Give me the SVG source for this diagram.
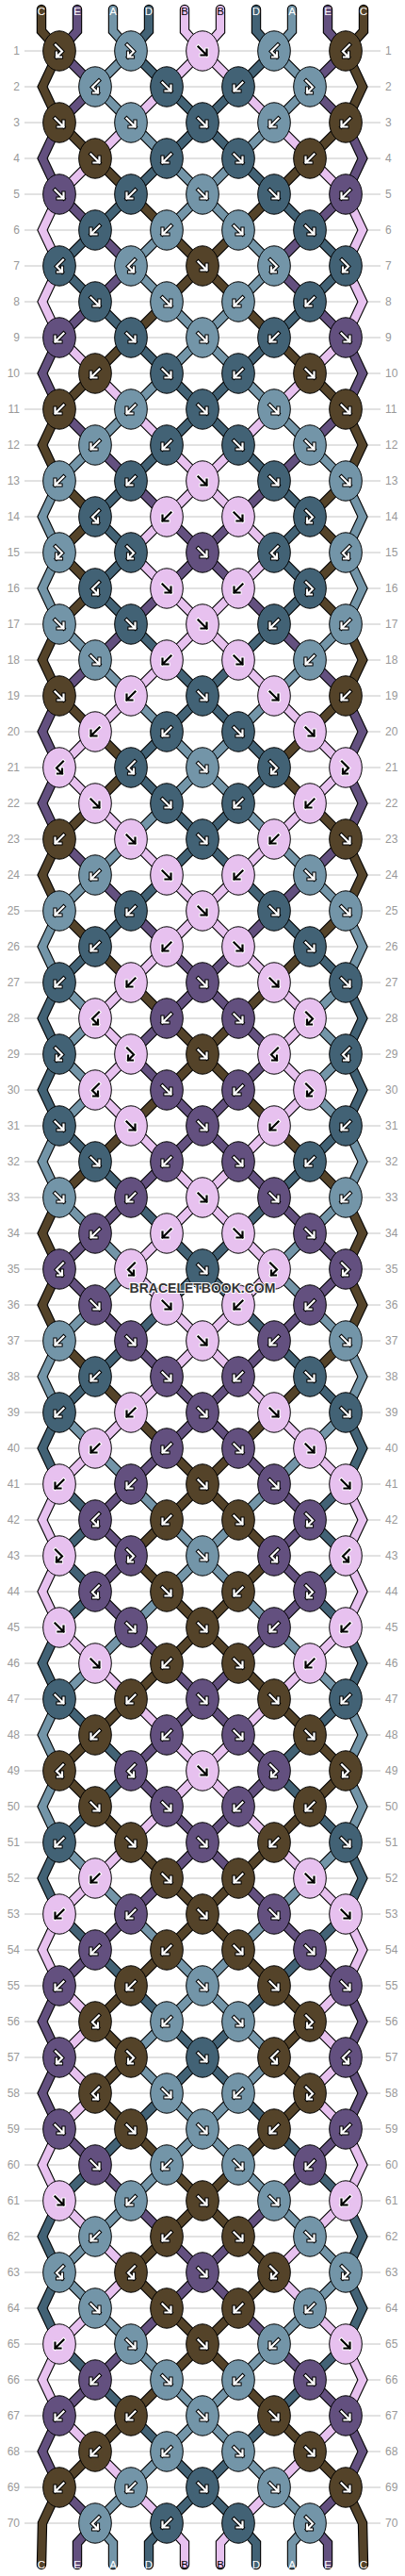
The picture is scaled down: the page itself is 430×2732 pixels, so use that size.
<svg xmlns="http://www.w3.org/2000/svg" xmlns:xlink="http://www.w3.org/1999/xlink" width="430" height="2732" viewBox="0 0 430 2732">
<style>
.C{fill:#544329}.E{fill:#63507f}.A{fill:#7395a8}.D{fill:#426275}.B{fill:#e7c1ef}
.sC{stroke:#544329}.sE{stroke:#63507f}.sA{stroke:#7395a8}.sD{stroke:#426275}.sB{stroke:#e7c1ef}
#connectors use{fill:none;stroke-linejoin:miter;stroke-linecap:round}
#so use{stroke:#000;stroke-width:10.4}
#sc use{stroke-width:8.2}
.lbl text{font-family:"Liberation Sans",Arial,sans-serif;font-size:12px;fill:#999}
.end text{font-family:"Liberation Sans",Arial,sans-serif;font-size:11.5px;text-anchor:middle;fill:#fff}
.end text.k{fill:#000}
</style>
<defs>
<ellipse id="e" rx="17.3" ry="21.2" stroke="#000" stroke-width="1"/>
<g id="aF" fill="none"><path d="M-4.5-4.5L4.5,4.5M4.5-1.5V4.5H-1.5" stroke="#000" stroke-width="4.2" stroke-linecap="square"/><path d="M-4.5-4.5L4.5,4.5M4.5-1.5V4.5H-1.5" stroke="#fff" stroke-width="2.2" stroke-linecap="square"/></g>
<g id="aB" fill="none"><path d="M4.5-4.5L-4.5,4.5M-4.5-1.5V4.5H1.5" stroke="#000" stroke-width="4.2" stroke-linecap="square"/><path d="M4.5-4.5L-4.5,4.5M-4.5-1.5V4.5H1.5" stroke="#fff" stroke-width="2.2" stroke-linecap="square"/></g>
<g id="af" fill="none"><path d="M-4-6.5L3,0.5L-3,6.5M-3,1.5V6.5H2" stroke="#000" stroke-width="4.2" stroke-linecap="square"/><path d="M-4-6.5L3,0.5L-3,6.5M-3,1.5V6.5H2" stroke="#fff" stroke-width="2.2" stroke-linecap="square"/></g>
<g id="ab" fill="none"><path d="M4-6.5L-3,0.5L3,6.5M3,1.5V6.5H-2" stroke="#000" stroke-width="4.2" stroke-linecap="square"/><path d="M4-6.5L-3,0.5L3,6.5M3,1.5V6.5H-2" stroke="#fff" stroke-width="2.2" stroke-linecap="square"/></g>
<g id="kF" fill="none"><path d="M-4.5-4.5L4.5,4.5M4.5-1.5V4.5H-1.5" stroke="#fff" stroke-width="4.2" stroke-linecap="square"/><path d="M-4.5-4.5L4.5,4.5M4.5-1.5V4.5H-1.5" stroke="#000" stroke-width="2.2" stroke-linecap="square"/></g>
<g id="kB" fill="none"><path d="M4.5-4.5L-4.5,4.5M-4.5-1.5V4.5H1.5" stroke="#fff" stroke-width="4.2" stroke-linecap="square"/><path d="M4.5-4.5L-4.5,4.5M-4.5-1.5V4.5H1.5" stroke="#000" stroke-width="2.2" stroke-linecap="square"/></g>
<g id="kf" fill="none"><path d="M-4-6.5L3,0.5L-3,6.5M-3,1.5V6.5H2" stroke="#fff" stroke-width="4.2" stroke-linecap="square"/><path d="M-4-6.5L3,0.5L-3,6.5M-3,1.5V6.5H2" stroke="#000" stroke-width="2.2" stroke-linecap="square"/></g>
<g id="kb" fill="none"><path d="M4-6.5L-3,0.5L3,6.5M3,1.5V6.5H-2" stroke="#fff" stroke-width="4.2" stroke-linecap="square"/><path d="M4-6.5L-3,0.5L3,6.5M3,1.5V6.5H-2" stroke="#000" stroke-width="2.2" stroke-linecap="square"/></g>
<path id="strC" fill="none" d="M44,10V33L63,54 45,92 63,130 101,168 139,206 177,244 215,282 177,320 139,358 101,396 63,434 45,472 63,510 101,548 63,586 101,624 63,662 45,700 63,738 101,776 139,814 101,852 63,890 45,928 63,966 101,1004 139,1042 177,1080 215,1118 177,1156 139,1194 101,1232 63,1270 45,1308 63,1346 45,1384 63,1422 101,1460 139,1498 177,1536 215,1574 177,1612 139,1650 177,1688 215,1726 177,1764 139,1802 101,1840 63,1878 101,1916 139,1954 177,1992 215,2030 177,2068 139,2106 101,2144 139,2182 101,2220 139,2258 177,2296 215,2334 177,2372 139,2410 177,2448 215,2486 177,2524 139,2562 101,2600 63,2638 45,2676 44,2720"/>
<path id="strE" fill="none" d="M82,10V33L63,54 101,92 63,130 45,168 63,206 101,244 139,282 101,320 63,358 45,396 63,434 101,472 139,510 177,548 215,586 177,624 139,662 101,700 63,738 45,776 63,814 45,852 63,890 101,928 139,966 177,1004 215,1042 177,1080 139,1118 177,1156 215,1194 177,1232 139,1270 101,1308 63,1346 101,1384 139,1422 177,1460 215,1498 177,1536 139,1574 101,1612 139,1650 101,1688 139,1726 177,1764 215,1802 177,1840 139,1878 177,1916 215,1954 177,1992 139,2030 101,2068 63,2106 45,2144 63,2182 45,2220 63,2258 101,2296 139,2334 177,2372 215,2410 177,2448 139,2486 101,2524 63,2562 45,2600 63,2638 101,2676 82,2697V2720"/>
<path id="strA" fill="none" d="M120,10V33L139,54 101,92 139,130 177,168 215,206 177,244 139,282 177,320 215,358 177,396 139,434 101,472 63,510 45,548 63,586 45,624 63,662 101,700 139,738 177,776 215,814 177,852 139,890 101,928 63,966 45,1004 63,1042 101,1080 63,1118 101,1156 63,1194 45,1232 63,1270 101,1308 139,1346 101,1384 63,1422 45,1460 63,1498 101,1536 139,1574 177,1612 215,1650 177,1688 139,1726 101,1764 63,1802 45,1840 63,1878 45,1916 63,1954 101,1992 139,2030 177,2068 215,2106 177,2144 139,2182 177,2220 215,2258 177,2296 139,2334 101,2372 63,2410 101,2448 139,2486 177,2524 215,2562 177,2600 139,2638 101,2676 120,2697V2720"/>
<path id="strD" fill="none" d="M158,10V33L139,54 177,92 215,130 177,168 139,206 101,244 63,282 101,320 139,358 177,396 215,434 177,472 139,510 101,548 139,586 101,624 139,662 177,700 215,738 177,776 139,814 177,852 215,890 177,928 139,966 101,1004 63,1042 45,1080 63,1118 45,1156 63,1194 101,1232 139,1270 177,1308 215,1346 177,1384 139,1422 101,1460 63,1498 45,1536 63,1574 101,1612 63,1650 101,1688 63,1726 45,1764 63,1802 101,1840 139,1878 101,1916 63,1954 45,1992 63,2030 101,2068 139,2106 177,2144 215,2182 177,2220 139,2258 101,2296 63,2334 45,2372 63,2410 45,2448 63,2486 101,2524 139,2562 177,2600 215,2638 177,2676 158,2697V2720"/>
<path id="strB" fill="none" d="M196,10V33L215,54 177,92 139,130 101,168 63,206 45,244 63,282 45,320 63,358 101,396 139,434 177,472 215,510 177,548 139,586 177,624 215,662 177,700 139,738 101,776 63,814 101,852 139,890 177,928 215,966 177,1004 139,1042 101,1080 139,1118 101,1156 139,1194 177,1232 215,1270 177,1308 139,1346 177,1384 215,1422 177,1460 139,1498 101,1536 63,1574 45,1612 63,1650 45,1688 63,1726 101,1764 139,1802 177,1840 215,1878 177,1916 139,1954 101,1992 63,2030 45,2068 63,2106 101,2144 63,2182 101,2220 63,2258 45,2296 63,2334 101,2372 139,2410 101,2448 63,2486 45,2524 63,2562 101,2600 139,2638 177,2676 196,2697V2720"/>
</defs>
<rect width="430" height="2732" fill="#fff"/>
<path id="rowlines" fill="none" stroke="#c4c4c4" stroke-width="1" d="M26,54H404M26,92H404M26,130H404M26,168H404M26,206H404M26,244H404M26,282H404M26,320H404M26,358H404M26,396H404M26,434H404M26,472H404M26,510H404M26,548H404M26,586H404M26,624H404M26,662H404M26,700H404M26,738H404M26,776H404M26,814H404M26,852H404M26,890H404M26,928H404M26,966H404M26,1004H404M26,1042H404M26,1080H404M26,1118H404M26,1156H404M26,1194H404M26,1232H404M26,1270H404M26,1308H404M26,1346H404M26,1384H404M26,1422H404M26,1460H404M26,1498H404M26,1536H404M26,1574H404M26,1612H404M26,1650H404M26,1688H404M26,1726H404M26,1764H404M26,1802H404M26,1840H404M26,1878H404M26,1916H404M26,1954H404M26,1992H404M26,2030H404M26,2068H404M26,2106H404M26,2144H404M26,2182H404M26,2220H404M26,2258H404M26,2296H404M26,2334H404M26,2372H404M26,2410H404M26,2448H404M26,2486H404M26,2524H404M26,2562H404M26,2600H404M26,2638H404M26,2676H404"/>
<g id="labels-left" class="lbl" text-anchor="end" transform="translate(21 4.3)">
<text y="54">1</text><text y="92">2</text><text y="130">3</text><text y="168">4</text><text y="206">5</text><text y="244">6</text><text y="282">7</text><text y="320">8</text><text y="358">9</text><text y="396">10</text><text y="434">11</text><text y="472">12</text><text y="510">13</text><text y="548">14</text><text y="586">15</text><text y="624">16</text><text y="662">17</text><text y="700">18</text><text y="738">19</text><text y="776">20</text><text y="814">21</text><text y="852">22</text><text y="890">23</text><text y="928">24</text><text y="966">25</text><text y="1004">26</text><text y="1042">27</text><text y="1080">28</text><text y="1118">29</text><text y="1156">30</text><text y="1194">31</text><text y="1232">32</text><text y="1270">33</text><text y="1308">34</text><text y="1346">35</text><text y="1384">36</text><text y="1422">37</text><text y="1460">38</text><text y="1498">39</text><text y="1536">40</text><text y="1574">41</text><text y="1612">42</text><text y="1650">43</text><text y="1688">44</text><text y="1726">45</text><text y="1764">46</text><text y="1802">47</text><text y="1840">48</text><text y="1878">49</text><text y="1916">50</text><text y="1954">51</text><text y="1992">52</text><text y="2030">53</text><text y="2068">54</text><text y="2106">55</text><text y="2144">56</text><text y="2182">57</text><text y="2220">58</text><text y="2258">59</text><text y="2296">60</text><text y="2334">61</text><text y="2372">62</text><text y="2410">63</text><text y="2448">64</text><text y="2486">65</text><text y="2524">66</text><text y="2562">67</text><text y="2600">68</text><text y="2638">69</text><text y="2676">70</text>
</g>
<g id="labels-right" class="lbl" text-anchor="start" transform="translate(409 4.3)">
<text y="54">1</text><text y="92">2</text><text y="130">3</text><text y="168">4</text><text y="206">5</text><text y="244">6</text><text y="282">7</text><text y="320">8</text><text y="358">9</text><text y="396">10</text><text y="434">11</text><text y="472">12</text><text y="510">13</text><text y="548">14</text><text y="586">15</text><text y="624">16</text><text y="662">17</text><text y="700">18</text><text y="738">19</text><text y="776">20</text><text y="814">21</text><text y="852">22</text><text y="890">23</text><text y="928">24</text><text y="966">25</text><text y="1004">26</text><text y="1042">27</text><text y="1080">28</text><text y="1118">29</text><text y="1156">30</text><text y="1194">31</text><text y="1232">32</text><text y="1270">33</text><text y="1308">34</text><text y="1346">35</text><text y="1384">36</text><text y="1422">37</text><text y="1460">38</text><text y="1498">39</text><text y="1536">40</text><text y="1574">41</text><text y="1612">42</text><text y="1650">43</text><text y="1688">44</text><text y="1726">45</text><text y="1764">46</text><text y="1802">47</text><text y="1840">48</text><text y="1878">49</text><text y="1916">50</text><text y="1954">51</text><text y="1992">52</text><text y="2030">53</text><text y="2068">54</text><text y="2106">55</text><text y="2144">56</text><text y="2182">57</text><text y="2220">58</text><text y="2258">59</text><text y="2296">60</text><text y="2334">61</text><text y="2372">62</text><text y="2410">63</text><text y="2448">64</text><text y="2486">65</text><text y="2524">66</text><text y="2562">67</text><text y="2600">68</text><text y="2638">69</text><text y="2676">70</text>
</g>
<g id="connectors">
<g id="so">
<use href="#strC"/><use href="#strE"/><use href="#strA"/><use href="#strD"/><use href="#strB"/>
<use href="#strC" transform="matrix(-1 0 0 1 430 0)"/><use href="#strE" transform="matrix(-1 0 0 1 430 0)"/><use href="#strA" transform="matrix(-1 0 0 1 430 0)"/><use href="#strD" transform="matrix(-1 0 0 1 430 0)"/><use href="#strB" transform="matrix(-1 0 0 1 430 0)"/>
</g>
<g id="sc">
<use href="#strC" class="sC"/><use href="#strE" class="sE"/><use href="#strA" class="sA"/><use href="#strD" class="sD"/><use href="#strB" class="sB"/>
<use href="#strC" class="sC" transform="matrix(-1 0 0 1 430 0)"/><use href="#strE" class="sE" transform="matrix(-1 0 0 1 430 0)"/><use href="#strA" class="sA" transform="matrix(-1 0 0 1 430 0)"/><use href="#strD" class="sD" transform="matrix(-1 0 0 1 430 0)"/><use href="#strB" class="sB" transform="matrix(-1 0 0 1 430 0)"/>
</g>
</g>
<g id="ends" class="end">
<text x="44" y="16.3">C</text><text x="82" y="16.3">E</text><text x="120" y="16.3">A</text><text x="158" y="16.3">D</text><text x="196" y="16.3" class="k">B</text><text x="234" y="16.3" class="k">B</text><text x="272" y="16.3">D</text><text x="310" y="16.3">A</text><text x="348" y="16.3">E</text><text x="386" y="16.3">C</text>
<text x="44" y="2724">C</text><text x="82" y="2724">E</text><text x="120" y="2724">A</text><text x="158" y="2724">D</text><text x="196" y="2724" class="k">B</text><text x="234" y="2724" class="k">B</text><text x="272" y="2724">D</text><text x="310" y="2724">A</text><text x="348" y="2724">E</text><text x="386" y="2724">C</text>
</g>
<g id="knots">
<g id="r1k1" class="C" transform="translate(63 54)"><use href="#e"/><use href="#af"/></g>
<g id="r1k2" class="A" transform="translate(139 54)"><use href="#e"/><use href="#af"/></g>
<g id="r1k3" class="B" transform="translate(215 54)"><use href="#e"/><use href="#kF"/></g>
<g id="r1k4" class="A" transform="translate(291 54)"><use href="#e"/><use href="#ab"/></g>
<g id="r1k5" class="C" transform="translate(367 54)"><use href="#e"/><use href="#ab"/></g>
<g id="r2k1" class="A" transform="translate(101 92)"><use href="#e"/><use href="#ab"/></g>
<g id="r2k2" class="D" transform="translate(177 92)"><use href="#e"/><use href="#aF"/></g>
<g id="r2k3" class="D" transform="translate(253 92)"><use href="#e"/><use href="#aB"/></g>
<g id="r2k4" class="A" transform="translate(329 92)"><use href="#e"/><use href="#af"/></g>
<g id="r3k1" class="C" transform="translate(63 130)"><use href="#e"/><use href="#aF"/></g>
<g id="r3k2" class="A" transform="translate(139 130)"><use href="#e"/><use href="#aF"/></g>
<g id="r3k3" class="D" transform="translate(215 130)"><use href="#e"/><use href="#aF"/></g>
<g id="r3k4" class="A" transform="translate(291 130)"><use href="#e"/><use href="#aB"/></g>
<g id="r3k5" class="C" transform="translate(367 130)"><use href="#e"/><use href="#aB"/></g>
<g id="r4k1" class="C" transform="translate(101 168)"><use href="#e"/><use href="#aF"/></g>
<g id="r4k2" class="D" transform="translate(177 168)"><use href="#e"/><use href="#aB"/></g>
<g id="r4k3" class="D" transform="translate(253 168)"><use href="#e"/><use href="#aF"/></g>
<g id="r4k4" class="C" transform="translate(329 168)"><use href="#e"/><use href="#aB"/></g>
<g id="r5k1" class="E" transform="translate(63 206)"><use href="#e"/><use href="#aF"/></g>
<g id="r5k2" class="D" transform="translate(139 206)"><use href="#e"/><use href="#aB"/></g>
<g id="r5k3" class="A" transform="translate(215 206)"><use href="#e"/><use href="#aF"/></g>
<g id="r5k4" class="D" transform="translate(291 206)"><use href="#e"/><use href="#aF"/></g>
<g id="r5k5" class="E" transform="translate(367 206)"><use href="#e"/><use href="#aB"/></g>
<g id="r6k1" class="D" transform="translate(101 244)"><use href="#e"/><use href="#aB"/></g>
<g id="r6k2" class="A" transform="translate(177 244)"><use href="#e"/><use href="#aB"/></g>
<g id="r6k3" class="A" transform="translate(253 244)"><use href="#e"/><use href="#aF"/></g>
<g id="r6k4" class="D" transform="translate(329 244)"><use href="#e"/><use href="#aF"/></g>
<g id="r7k1" class="D" transform="translate(63 282)"><use href="#e"/><use href="#ab"/></g>
<g id="r7k2" class="A" transform="translate(139 282)"><use href="#e"/><use href="#ab"/></g>
<g id="r7k3" class="C" transform="translate(215 282)"><use href="#e"/><use href="#aF"/></g>
<g id="r7k4" class="A" transform="translate(291 282)"><use href="#e"/><use href="#af"/></g>
<g id="r7k5" class="D" transform="translate(367 282)"><use href="#e"/><use href="#af"/></g>
<g id="r8k1" class="D" transform="translate(101 320)"><use href="#e"/><use href="#aF"/></g>
<g id="r8k2" class="A" transform="translate(177 320)"><use href="#e"/><use href="#aF"/></g>
<g id="r8k3" class="A" transform="translate(253 320)"><use href="#e"/><use href="#aB"/></g>
<g id="r8k4" class="D" transform="translate(329 320)"><use href="#e"/><use href="#aB"/></g>
<g id="r9k1" class="E" transform="translate(63 358)"><use href="#e"/><use href="#aB"/></g>
<g id="r9k2" class="D" transform="translate(139 358)"><use href="#e"/><use href="#aF"/></g>
<g id="r9k3" class="A" transform="translate(215 358)"><use href="#e"/><use href="#aF"/></g>
<g id="r9k4" class="D" transform="translate(291 358)"><use href="#e"/><use href="#aB"/></g>
<g id="r9k5" class="E" transform="translate(367 358)"><use href="#e"/><use href="#aF"/></g>
<g id="r10k1" class="C" transform="translate(101 396)"><use href="#e"/><use href="#aB"/></g>
<g id="r10k2" class="D" transform="translate(177 396)"><use href="#e"/><use href="#aF"/></g>
<g id="r10k3" class="D" transform="translate(253 396)"><use href="#e"/><use href="#aB"/></g>
<g id="r10k4" class="C" transform="translate(329 396)"><use href="#e"/><use href="#aF"/></g>
<g id="r11k1" class="C" transform="translate(63 434)"><use href="#e"/><use href="#aB"/></g>
<g id="r11k2" class="A" transform="translate(139 434)"><use href="#e"/><use href="#aB"/></g>
<g id="r11k3" class="D" transform="translate(215 434)"><use href="#e"/><use href="#aF"/></g>
<g id="r11k4" class="A" transform="translate(291 434)"><use href="#e"/><use href="#aF"/></g>
<g id="r11k5" class="C" transform="translate(367 434)"><use href="#e"/><use href="#aF"/></g>
<g id="r12k1" class="A" transform="translate(101 472)"><use href="#e"/><use href="#aB"/></g>
<g id="r12k2" class="D" transform="translate(177 472)"><use href="#e"/><use href="#aB"/></g>
<g id="r12k3" class="D" transform="translate(253 472)"><use href="#e"/><use href="#aF"/></g>
<g id="r12k4" class="A" transform="translate(329 472)"><use href="#e"/><use href="#aF"/></g>
<g id="r13k1" class="A" transform="translate(63 510)"><use href="#e"/><use href="#aB"/></g>
<g id="r13k2" class="D" transform="translate(139 510)"><use href="#e"/><use href="#aB"/></g>
<g id="r13k3" class="B" transform="translate(215 510)"><use href="#e"/><use href="#kF"/></g>
<g id="r13k4" class="D" transform="translate(291 510)"><use href="#e"/><use href="#aF"/></g>
<g id="r13k5" class="A" transform="translate(367 510)"><use href="#e"/><use href="#aF"/></g>
<g id="r14k1" class="D" transform="translate(101 548)"><use href="#e"/><use href="#ab"/></g>
<g id="r14k2" class="B" transform="translate(177 548)"><use href="#e"/><use href="#kB"/></g>
<g id="r14k3" class="B" transform="translate(253 548)"><use href="#e"/><use href="#kF"/></g>
<g id="r14k4" class="D" transform="translate(329 548)"><use href="#e"/><use href="#af"/></g>
<g id="r15k1" class="A" transform="translate(63 586)"><use href="#e"/><use href="#af"/></g>
<g id="r15k2" class="D" transform="translate(139 586)"><use href="#e"/><use href="#af"/></g>
<g id="r15k3" class="E" transform="translate(215 586)"><use href="#e"/><use href="#aF"/></g>
<g id="r15k4" class="D" transform="translate(291 586)"><use href="#e"/><use href="#ab"/></g>
<g id="r15k5" class="A" transform="translate(367 586)"><use href="#e"/><use href="#ab"/></g>
<g id="r16k1" class="D" transform="translate(101 624)"><use href="#e"/><use href="#ab"/></g>
<g id="r16k2" class="B" transform="translate(177 624)"><use href="#e"/><use href="#kF"/></g>
<g id="r16k3" class="B" transform="translate(253 624)"><use href="#e"/><use href="#kB"/></g>
<g id="r16k4" class="D" transform="translate(329 624)"><use href="#e"/><use href="#af"/></g>
<g id="r17k1" class="A" transform="translate(63 662)"><use href="#e"/><use href="#aF"/></g>
<g id="r17k2" class="D" transform="translate(139 662)"><use href="#e"/><use href="#aF"/></g>
<g id="r17k3" class="B" transform="translate(215 662)"><use href="#e"/><use href="#kF"/></g>
<g id="r17k4" class="D" transform="translate(291 662)"><use href="#e"/><use href="#aB"/></g>
<g id="r17k5" class="A" transform="translate(367 662)"><use href="#e"/><use href="#aB"/></g>
<g id="r18k1" class="A" transform="translate(101 700)"><use href="#e"/><use href="#aF"/></g>
<g id="r18k2" class="B" transform="translate(177 700)"><use href="#e"/><use href="#kB"/></g>
<g id="r18k3" class="B" transform="translate(253 700)"><use href="#e"/><use href="#kF"/></g>
<g id="r18k4" class="A" transform="translate(329 700)"><use href="#e"/><use href="#aB"/></g>
<g id="r19k1" class="C" transform="translate(63 738)"><use href="#e"/><use href="#aF"/></g>
<g id="r19k2" class="B" transform="translate(139 738)"><use href="#e"/><use href="#kB"/></g>
<g id="r19k3" class="D" transform="translate(215 738)"><use href="#e"/><use href="#aF"/></g>
<g id="r19k4" class="B" transform="translate(291 738)"><use href="#e"/><use href="#kF"/></g>
<g id="r19k5" class="C" transform="translate(367 738)"><use href="#e"/><use href="#aB"/></g>
<g id="r20k1" class="B" transform="translate(101 776)"><use href="#e"/><use href="#kB"/></g>
<g id="r20k2" class="D" transform="translate(177 776)"><use href="#e"/><use href="#aB"/></g>
<g id="r20k3" class="D" transform="translate(253 776)"><use href="#e"/><use href="#aF"/></g>
<g id="r20k4" class="B" transform="translate(329 776)"><use href="#e"/><use href="#kF"/></g>
<g id="r21k1" class="B" transform="translate(63 814)"><use href="#e"/><use href="#kb"/></g>
<g id="r21k2" class="D" transform="translate(139 814)"><use href="#e"/><use href="#ab"/></g>
<g id="r21k3" class="A" transform="translate(215 814)"><use href="#e"/><use href="#aF"/></g>
<g id="r21k4" class="D" transform="translate(291 814)"><use href="#e"/><use href="#af"/></g>
<g id="r21k5" class="B" transform="translate(367 814)"><use href="#e"/><use href="#kf"/></g>
<g id="r22k1" class="B" transform="translate(101 852)"><use href="#e"/><use href="#kF"/></g>
<g id="r22k2" class="D" transform="translate(177 852)"><use href="#e"/><use href="#aF"/></g>
<g id="r22k3" class="D" transform="translate(253 852)"><use href="#e"/><use href="#aB"/></g>
<g id="r22k4" class="B" transform="translate(329 852)"><use href="#e"/><use href="#kB"/></g>
<g id="r23k1" class="C" transform="translate(63 890)"><use href="#e"/><use href="#aB"/></g>
<g id="r23k2" class="B" transform="translate(139 890)"><use href="#e"/><use href="#kF"/></g>
<g id="r23k3" class="D" transform="translate(215 890)"><use href="#e"/><use href="#aF"/></g>
<g id="r23k4" class="B" transform="translate(291 890)"><use href="#e"/><use href="#kB"/></g>
<g id="r23k5" class="C" transform="translate(367 890)"><use href="#e"/><use href="#aF"/></g>
<g id="r24k1" class="A" transform="translate(101 928)"><use href="#e"/><use href="#aB"/></g>
<g id="r24k2" class="B" transform="translate(177 928)"><use href="#e"/><use href="#kF"/></g>
<g id="r24k3" class="B" transform="translate(253 928)"><use href="#e"/><use href="#kB"/></g>
<g id="r24k4" class="A" transform="translate(329 928)"><use href="#e"/><use href="#aF"/></g>
<g id="r25k1" class="A" transform="translate(63 966)"><use href="#e"/><use href="#aB"/></g>
<g id="r25k2" class="D" transform="translate(139 966)"><use href="#e"/><use href="#aB"/></g>
<g id="r25k3" class="B" transform="translate(215 966)"><use href="#e"/><use href="#kF"/></g>
<g id="r25k4" class="D" transform="translate(291 966)"><use href="#e"/><use href="#aF"/></g>
<g id="r25k5" class="A" transform="translate(367 966)"><use href="#e"/><use href="#aF"/></g>
<g id="r26k1" class="D" transform="translate(101 1004)"><use href="#e"/><use href="#aB"/></g>
<g id="r26k2" class="B" transform="translate(177 1004)"><use href="#e"/><use href="#kB"/></g>
<g id="r26k3" class="B" transform="translate(253 1004)"><use href="#e"/><use href="#kF"/></g>
<g id="r26k4" class="D" transform="translate(329 1004)"><use href="#e"/><use href="#aF"/></g>
<g id="r27k1" class="D" transform="translate(63 1042)"><use href="#e"/><use href="#aB"/></g>
<g id="r27k2" class="B" transform="translate(139 1042)"><use href="#e"/><use href="#kB"/></g>
<g id="r27k3" class="E" transform="translate(215 1042)"><use href="#e"/><use href="#aF"/></g>
<g id="r27k4" class="B" transform="translate(291 1042)"><use href="#e"/><use href="#kF"/></g>
<g id="r27k5" class="D" transform="translate(367 1042)"><use href="#e"/><use href="#aF"/></g>
<g id="r28k1" class="B" transform="translate(101 1080)"><use href="#e"/><use href="#kb"/></g>
<g id="r28k2" class="E" transform="translate(177 1080)"><use href="#e"/><use href="#aB"/></g>
<g id="r28k3" class="E" transform="translate(253 1080)"><use href="#e"/><use href="#aF"/></g>
<g id="r28k4" class="B" transform="translate(329 1080)"><use href="#e"/><use href="#kf"/></g>
<g id="r29k1" class="D" transform="translate(63 1118)"><use href="#e"/><use href="#af"/></g>
<g id="r29k2" class="B" transform="translate(139 1118)"><use href="#e"/><use href="#kf"/></g>
<g id="r29k3" class="C" transform="translate(215 1118)"><use href="#e"/><use href="#aF"/></g>
<g id="r29k4" class="B" transform="translate(291 1118)"><use href="#e"/><use href="#kb"/></g>
<g id="r29k5" class="D" transform="translate(367 1118)"><use href="#e"/><use href="#ab"/></g>
<g id="r30k1" class="B" transform="translate(101 1156)"><use href="#e"/><use href="#kb"/></g>
<g id="r30k2" class="E" transform="translate(177 1156)"><use href="#e"/><use href="#aF"/></g>
<g id="r30k3" class="E" transform="translate(253 1156)"><use href="#e"/><use href="#aB"/></g>
<g id="r30k4" class="B" transform="translate(329 1156)"><use href="#e"/><use href="#kf"/></g>
<g id="r31k1" class="D" transform="translate(63 1194)"><use href="#e"/><use href="#aF"/></g>
<g id="r31k2" class="B" transform="translate(139 1194)"><use href="#e"/><use href="#kF"/></g>
<g id="r31k3" class="E" transform="translate(215 1194)"><use href="#e"/><use href="#aF"/></g>
<g id="r31k4" class="B" transform="translate(291 1194)"><use href="#e"/><use href="#kB"/></g>
<g id="r31k5" class="D" transform="translate(367 1194)"><use href="#e"/><use href="#aB"/></g>
<g id="r32k1" class="D" transform="translate(101 1232)"><use href="#e"/><use href="#aF"/></g>
<g id="r32k2" class="E" transform="translate(177 1232)"><use href="#e"/><use href="#aB"/></g>
<g id="r32k3" class="E" transform="translate(253 1232)"><use href="#e"/><use href="#aF"/></g>
<g id="r32k4" class="D" transform="translate(329 1232)"><use href="#e"/><use href="#aB"/></g>
<g id="r33k1" class="A" transform="translate(63 1270)"><use href="#e"/><use href="#aF"/></g>
<g id="r33k2" class="E" transform="translate(139 1270)"><use href="#e"/><use href="#aB"/></g>
<g id="r33k3" class="B" transform="translate(215 1270)"><use href="#e"/><use href="#kF"/></g>
<g id="r33k4" class="E" transform="translate(291 1270)"><use href="#e"/><use href="#aF"/></g>
<g id="r33k5" class="A" transform="translate(367 1270)"><use href="#e"/><use href="#aB"/></g>
<g id="r34k1" class="E" transform="translate(101 1308)"><use href="#e"/><use href="#aB"/></g>
<g id="r34k2" class="B" transform="translate(177 1308)"><use href="#e"/><use href="#kB"/></g>
<g id="r34k3" class="B" transform="translate(253 1308)"><use href="#e"/><use href="#kF"/></g>
<g id="r34k4" class="E" transform="translate(329 1308)"><use href="#e"/><use href="#aF"/></g>
<g id="r35k1" class="E" transform="translate(63 1346)"><use href="#e"/><use href="#ab"/></g>
<g id="r35k2" class="B" transform="translate(139 1346)"><use href="#e"/><use href="#kb"/></g>
<g id="r35k3" class="D" transform="translate(215 1346)"><use href="#e"/><use href="#aF"/></g>
<g id="r35k4" class="B" transform="translate(291 1346)"><use href="#e"/><use href="#kf"/></g>
<g id="r35k5" class="E" transform="translate(367 1346)"><use href="#e"/><use href="#af"/></g>
<g id="r36k1" class="E" transform="translate(101 1384)"><use href="#e"/><use href="#aF"/></g>
<g id="r36k2" class="B" transform="translate(177 1384)"><use href="#e"/><use href="#kF"/></g>
<g id="r36k3" class="B" transform="translate(253 1384)"><use href="#e"/><use href="#kB"/></g>
<g id="r36k4" class="E" transform="translate(329 1384)"><use href="#e"/><use href="#aB"/></g>
<g id="r37k1" class="A" transform="translate(63 1422)"><use href="#e"/><use href="#aB"/></g>
<g id="r37k2" class="E" transform="translate(139 1422)"><use href="#e"/><use href="#aF"/></g>
<g id="r37k3" class="B" transform="translate(215 1422)"><use href="#e"/><use href="#kF"/></g>
<g id="r37k4" class="E" transform="translate(291 1422)"><use href="#e"/><use href="#aB"/></g>
<g id="r37k5" class="A" transform="translate(367 1422)"><use href="#e"/><use href="#aF"/></g>
<g id="r38k1" class="D" transform="translate(101 1460)"><use href="#e"/><use href="#aB"/></g>
<g id="r38k2" class="E" transform="translate(177 1460)"><use href="#e"/><use href="#aF"/></g>
<g id="r38k3" class="E" transform="translate(253 1460)"><use href="#e"/><use href="#aB"/></g>
<g id="r38k4" class="D" transform="translate(329 1460)"><use href="#e"/><use href="#aF"/></g>
<g id="r39k1" class="D" transform="translate(63 1498)"><use href="#e"/><use href="#aB"/></g>
<g id="r39k2" class="B" transform="translate(139 1498)"><use href="#e"/><use href="#kB"/></g>
<g id="r39k3" class="E" transform="translate(215 1498)"><use href="#e"/><use href="#aF"/></g>
<g id="r39k4" class="B" transform="translate(291 1498)"><use href="#e"/><use href="#kF"/></g>
<g id="r39k5" class="D" transform="translate(367 1498)"><use href="#e"/><use href="#aF"/></g>
<g id="r40k1" class="B" transform="translate(101 1536)"><use href="#e"/><use href="#kB"/></g>
<g id="r40k2" class="E" transform="translate(177 1536)"><use href="#e"/><use href="#aB"/></g>
<g id="r40k3" class="E" transform="translate(253 1536)"><use href="#e"/><use href="#aF"/></g>
<g id="r40k4" class="B" transform="translate(329 1536)"><use href="#e"/><use href="#kF"/></g>
<g id="r41k1" class="B" transform="translate(63 1574)"><use href="#e"/><use href="#kB"/></g>
<g id="r41k2" class="E" transform="translate(139 1574)"><use href="#e"/><use href="#aB"/></g>
<g id="r41k3" class="C" transform="translate(215 1574)"><use href="#e"/><use href="#aF"/></g>
<g id="r41k4" class="E" transform="translate(291 1574)"><use href="#e"/><use href="#aF"/></g>
<g id="r41k5" class="B" transform="translate(367 1574)"><use href="#e"/><use href="#kF"/></g>
<g id="r42k1" class="E" transform="translate(101 1612)"><use href="#e"/><use href="#ab"/></g>
<g id="r42k2" class="C" transform="translate(177 1612)"><use href="#e"/><use href="#aB"/></g>
<g id="r42k3" class="C" transform="translate(253 1612)"><use href="#e"/><use href="#aF"/></g>
<g id="r42k4" class="E" transform="translate(329 1612)"><use href="#e"/><use href="#af"/></g>
<g id="r43k1" class="B" transform="translate(63 1650)"><use href="#e"/><use href="#kf"/></g>
<g id="r43k2" class="E" transform="translate(139 1650)"><use href="#e"/><use href="#af"/></g>
<g id="r43k3" class="A" transform="translate(215 1650)"><use href="#e"/><use href="#aF"/></g>
<g id="r43k4" class="E" transform="translate(291 1650)"><use href="#e"/><use href="#ab"/></g>
<g id="r43k5" class="B" transform="translate(367 1650)"><use href="#e"/><use href="#kb"/></g>
<g id="r44k1" class="E" transform="translate(101 1688)"><use href="#e"/><use href="#ab"/></g>
<g id="r44k2" class="C" transform="translate(177 1688)"><use href="#e"/><use href="#aF"/></g>
<g id="r44k3" class="C" transform="translate(253 1688)"><use href="#e"/><use href="#aB"/></g>
<g id="r44k4" class="E" transform="translate(329 1688)"><use href="#e"/><use href="#af"/></g>
<g id="r45k1" class="B" transform="translate(63 1726)"><use href="#e"/><use href="#kF"/></g>
<g id="r45k2" class="E" transform="translate(139 1726)"><use href="#e"/><use href="#aF"/></g>
<g id="r45k3" class="C" transform="translate(215 1726)"><use href="#e"/><use href="#aF"/></g>
<g id="r45k4" class="E" transform="translate(291 1726)"><use href="#e"/><use href="#aB"/></g>
<g id="r45k5" class="B" transform="translate(367 1726)"><use href="#e"/><use href="#kB"/></g>
<g id="r46k1" class="B" transform="translate(101 1764)"><use href="#e"/><use href="#kF"/></g>
<g id="r46k2" class="C" transform="translate(177 1764)"><use href="#e"/><use href="#aB"/></g>
<g id="r46k3" class="C" transform="translate(253 1764)"><use href="#e"/><use href="#aF"/></g>
<g id="r46k4" class="B" transform="translate(329 1764)"><use href="#e"/><use href="#kB"/></g>
<g id="r47k1" class="D" transform="translate(63 1802)"><use href="#e"/><use href="#aF"/></g>
<g id="r47k2" class="C" transform="translate(139 1802)"><use href="#e"/><use href="#aB"/></g>
<g id="r47k3" class="E" transform="translate(215 1802)"><use href="#e"/><use href="#aF"/></g>
<g id="r47k4" class="C" transform="translate(291 1802)"><use href="#e"/><use href="#aF"/></g>
<g id="r47k5" class="D" transform="translate(367 1802)"><use href="#e"/><use href="#aB"/></g>
<g id="r48k1" class="C" transform="translate(101 1840)"><use href="#e"/><use href="#aB"/></g>
<g id="r48k2" class="E" transform="translate(177 1840)"><use href="#e"/><use href="#aB"/></g>
<g id="r48k3" class="E" transform="translate(253 1840)"><use href="#e"/><use href="#aF"/></g>
<g id="r48k4" class="C" transform="translate(329 1840)"><use href="#e"/><use href="#aF"/></g>
<g id="r49k1" class="C" transform="translate(63 1878)"><use href="#e"/><use href="#ab"/></g>
<g id="r49k2" class="E" transform="translate(139 1878)"><use href="#e"/><use href="#ab"/></g>
<g id="r49k3" class="B" transform="translate(215 1878)"><use href="#e"/><use href="#kF"/></g>
<g id="r49k4" class="E" transform="translate(291 1878)"><use href="#e"/><use href="#af"/></g>
<g id="r49k5" class="C" transform="translate(367 1878)"><use href="#e"/><use href="#af"/></g>
<g id="r50k1" class="C" transform="translate(101 1916)"><use href="#e"/><use href="#aF"/></g>
<g id="r50k2" class="E" transform="translate(177 1916)"><use href="#e"/><use href="#aF"/></g>
<g id="r50k3" class="E" transform="translate(253 1916)"><use href="#e"/><use href="#aB"/></g>
<g id="r50k4" class="C" transform="translate(329 1916)"><use href="#e"/><use href="#aB"/></g>
<g id="r51k1" class="D" transform="translate(63 1954)"><use href="#e"/><use href="#aB"/></g>
<g id="r51k2" class="C" transform="translate(139 1954)"><use href="#e"/><use href="#aF"/></g>
<g id="r51k3" class="E" transform="translate(215 1954)"><use href="#e"/><use href="#aF"/></g>
<g id="r51k4" class="C" transform="translate(291 1954)"><use href="#e"/><use href="#aB"/></g>
<g id="r51k5" class="D" transform="translate(367 1954)"><use href="#e"/><use href="#aF"/></g>
<g id="r52k1" class="B" transform="translate(101 1992)"><use href="#e"/><use href="#kB"/></g>
<g id="r52k2" class="C" transform="translate(177 1992)"><use href="#e"/><use href="#aF"/></g>
<g id="r52k3" class="C" transform="translate(253 1992)"><use href="#e"/><use href="#aB"/></g>
<g id="r52k4" class="B" transform="translate(329 1992)"><use href="#e"/><use href="#kF"/></g>
<g id="r53k1" class="B" transform="translate(63 2030)"><use href="#e"/><use href="#kB"/></g>
<g id="r53k2" class="E" transform="translate(139 2030)"><use href="#e"/><use href="#aB"/></g>
<g id="r53k3" class="C" transform="translate(215 2030)"><use href="#e"/><use href="#aF"/></g>
<g id="r53k4" class="E" transform="translate(291 2030)"><use href="#e"/><use href="#aF"/></g>
<g id="r53k5" class="B" transform="translate(367 2030)"><use href="#e"/><use href="#kF"/></g>
<g id="r54k1" class="E" transform="translate(101 2068)"><use href="#e"/><use href="#aB"/></g>
<g id="r54k2" class="C" transform="translate(177 2068)"><use href="#e"/><use href="#aB"/></g>
<g id="r54k3" class="C" transform="translate(253 2068)"><use href="#e"/><use href="#aF"/></g>
<g id="r54k4" class="E" transform="translate(329 2068)"><use href="#e"/><use href="#aF"/></g>
<g id="r55k1" class="E" transform="translate(63 2106)"><use href="#e"/><use href="#aB"/></g>
<g id="r55k2" class="C" transform="translate(139 2106)"><use href="#e"/><use href="#aB"/></g>
<g id="r55k3" class="A" transform="translate(215 2106)"><use href="#e"/><use href="#aF"/></g>
<g id="r55k4" class="C" transform="translate(291 2106)"><use href="#e"/><use href="#aF"/></g>
<g id="r55k5" class="E" transform="translate(367 2106)"><use href="#e"/><use href="#aF"/></g>
<g id="r56k1" class="C" transform="translate(101 2144)"><use href="#e"/><use href="#ab"/></g>
<g id="r56k2" class="A" transform="translate(177 2144)"><use href="#e"/><use href="#aB"/></g>
<g id="r56k3" class="A" transform="translate(253 2144)"><use href="#e"/><use href="#aF"/></g>
<g id="r56k4" class="C" transform="translate(329 2144)"><use href="#e"/><use href="#af"/></g>
<g id="r57k1" class="E" transform="translate(63 2182)"><use href="#e"/><use href="#af"/></g>
<g id="r57k2" class="C" transform="translate(139 2182)"><use href="#e"/><use href="#af"/></g>
<g id="r57k3" class="D" transform="translate(215 2182)"><use href="#e"/><use href="#aF"/></g>
<g id="r57k4" class="C" transform="translate(291 2182)"><use href="#e"/><use href="#ab"/></g>
<g id="r57k5" class="E" transform="translate(367 2182)"><use href="#e"/><use href="#ab"/></g>
<g id="r58k1" class="C" transform="translate(101 2220)"><use href="#e"/><use href="#ab"/></g>
<g id="r58k2" class="A" transform="translate(177 2220)"><use href="#e"/><use href="#aF"/></g>
<g id="r58k3" class="A" transform="translate(253 2220)"><use href="#e"/><use href="#aB"/></g>
<g id="r58k4" class="C" transform="translate(329 2220)"><use href="#e"/><use href="#af"/></g>
<g id="r59k1" class="E" transform="translate(63 2258)"><use href="#e"/><use href="#aF"/></g>
<g id="r59k2" class="C" transform="translate(139 2258)"><use href="#e"/><use href="#aF"/></g>
<g id="r59k3" class="A" transform="translate(215 2258)"><use href="#e"/><use href="#aF"/></g>
<g id="r59k4" class="C" transform="translate(291 2258)"><use href="#e"/><use href="#aB"/></g>
<g id="r59k5" class="E" transform="translate(367 2258)"><use href="#e"/><use href="#aB"/></g>
<g id="r60k1" class="E" transform="translate(101 2296)"><use href="#e"/><use href="#aF"/></g>
<g id="r60k2" class="A" transform="translate(177 2296)"><use href="#e"/><use href="#aB"/></g>
<g id="r60k3" class="A" transform="translate(253 2296)"><use href="#e"/><use href="#aF"/></g>
<g id="r60k4" class="E" transform="translate(329 2296)"><use href="#e"/><use href="#aB"/></g>
<g id="r61k1" class="B" transform="translate(63 2334)"><use href="#e"/><use href="#kF"/></g>
<g id="r61k2" class="A" transform="translate(139 2334)"><use href="#e"/><use href="#aB"/></g>
<g id="r61k3" class="C" transform="translate(215 2334)"><use href="#e"/><use href="#aF"/></g>
<g id="r61k4" class="A" transform="translate(291 2334)"><use href="#e"/><use href="#aF"/></g>
<g id="r61k5" class="B" transform="translate(367 2334)"><use href="#e"/><use href="#kB"/></g>
<g id="r62k1" class="A" transform="translate(101 2372)"><use href="#e"/><use href="#aB"/></g>
<g id="r62k2" class="C" transform="translate(177 2372)"><use href="#e"/><use href="#aB"/></g>
<g id="r62k3" class="C" transform="translate(253 2372)"><use href="#e"/><use href="#aF"/></g>
<g id="r62k4" class="A" transform="translate(329 2372)"><use href="#e"/><use href="#aF"/></g>
<g id="r63k1" class="A" transform="translate(63 2410)"><use href="#e"/><use href="#ab"/></g>
<g id="r63k2" class="C" transform="translate(139 2410)"><use href="#e"/><use href="#ab"/></g>
<g id="r63k3" class="E" transform="translate(215 2410)"><use href="#e"/><use href="#aF"/></g>
<g id="r63k4" class="C" transform="translate(291 2410)"><use href="#e"/><use href="#af"/></g>
<g id="r63k5" class="A" transform="translate(367 2410)"><use href="#e"/><use href="#af"/></g>
<g id="r64k1" class="A" transform="translate(101 2448)"><use href="#e"/><use href="#aF"/></g>
<g id="r64k2" class="C" transform="translate(177 2448)"><use href="#e"/><use href="#aF"/></g>
<g id="r64k3" class="C" transform="translate(253 2448)"><use href="#e"/><use href="#aB"/></g>
<g id="r64k4" class="A" transform="translate(329 2448)"><use href="#e"/><use href="#aB"/></g>
<g id="r65k1" class="B" transform="translate(63 2486)"><use href="#e"/><use href="#kB"/></g>
<g id="r65k2" class="A" transform="translate(139 2486)"><use href="#e"/><use href="#aF"/></g>
<g id="r65k3" class="C" transform="translate(215 2486)"><use href="#e"/><use href="#aF"/></g>
<g id="r65k4" class="A" transform="translate(291 2486)"><use href="#e"/><use href="#aB"/></g>
<g id="r65k5" class="B" transform="translate(367 2486)"><use href="#e"/><use href="#kF"/></g>
<g id="r66k1" class="E" transform="translate(101 2524)"><use href="#e"/><use href="#aB"/></g>
<g id="r66k2" class="A" transform="translate(177 2524)"><use href="#e"/><use href="#aF"/></g>
<g id="r66k3" class="A" transform="translate(253 2524)"><use href="#e"/><use href="#aB"/></g>
<g id="r66k4" class="E" transform="translate(329 2524)"><use href="#e"/><use href="#aF"/></g>
<g id="r67k1" class="E" transform="translate(63 2562)"><use href="#e"/><use href="#aB"/></g>
<g id="r67k2" class="C" transform="translate(139 2562)"><use href="#e"/><use href="#aB"/></g>
<g id="r67k3" class="A" transform="translate(215 2562)"><use href="#e"/><use href="#aF"/></g>
<g id="r67k4" class="C" transform="translate(291 2562)"><use href="#e"/><use href="#aF"/></g>
<g id="r67k5" class="E" transform="translate(367 2562)"><use href="#e"/><use href="#aF"/></g>
<g id="r68k1" class="C" transform="translate(101 2600)"><use href="#e"/><use href="#aB"/></g>
<g id="r68k2" class="A" transform="translate(177 2600)"><use href="#e"/><use href="#aB"/></g>
<g id="r68k3" class="A" transform="translate(253 2600)"><use href="#e"/><use href="#aF"/></g>
<g id="r68k4" class="C" transform="translate(329 2600)"><use href="#e"/><use href="#aF"/></g>
<g id="r69k1" class="C" transform="translate(63 2638)"><use href="#e"/><use href="#aB"/></g>
<g id="r69k2" class="A" transform="translate(139 2638)"><use href="#e"/><use href="#aB"/></g>
<g id="r69k3" class="D" transform="translate(215 2638)"><use href="#e"/><use href="#aF"/></g>
<g id="r69k4" class="A" transform="translate(291 2638)"><use href="#e"/><use href="#aF"/></g>
<g id="r69k5" class="C" transform="translate(367 2638)"><use href="#e"/><use href="#aF"/></g>
<g id="r70k1" class="A" transform="translate(101 2676)"><use href="#e"/><use href="#ab"/></g>
<g id="r70k2" class="D" transform="translate(177 2676)"><use href="#e"/><use href="#aB"/></g>
<g id="r70k3" class="D" transform="translate(253 2676)"><use href="#e"/><use href="#aF"/></g>
<g id="r70k4" class="A" transform="translate(329 2676)"><use href="#e"/><use href="#af"/></g>
</g>
<text id="watermark" x="215" y="1371" text-anchor="middle" font-family="Liberation Sans, Arial, sans-serif" font-weight="bold" font-size="14" fill="#333" stroke="#fff" stroke-width="2" stroke-linejoin="round" paint-order="stroke">BRACELETBOOK.COM</text>
</svg>
